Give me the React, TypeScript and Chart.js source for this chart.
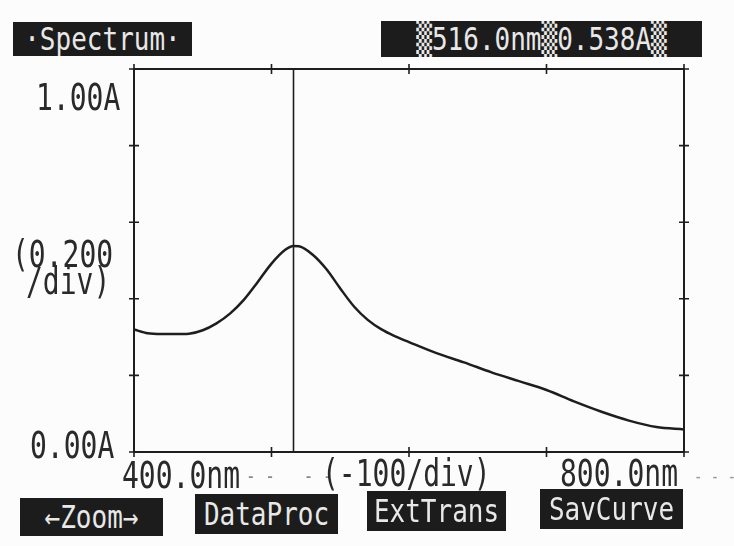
import React, { useEffect, useRef } from "react";
import { Chart, registerables } from "chart.js";

Chart.register(...registerables);

// ---- data ----
const wavelengths = [400, 410, 420, 430, 440, 450, 460, 470, 480, 490, 500, 510, 516, 520, 530, 540, 550, 560, 570, 580, 590, 600, 620, 640, 660, 680, 700, 720, 740, 760, 780, 800];
const absorbance = [0.320, 0.310, 0.308, 0.308, 0.309, 0.318, 0.336, 0.362, 0.398, 0.444, 0.492, 0.528, 0.538, 0.537, 0.515, 0.477, 0.427, 0.380, 0.345, 0.320, 0.302, 0.287, 0.258, 0.234, 0.208, 0.185, 0.162, 0.132, 0.105, 0.082, 0.065, 0.059];
const xTicks = [400, 500, 600, 700, 800];
const yTicks = [0, 0.2, 0.4, 0.6, 0.8, 1.0];
const cursorNm = 516.0;
const cursorAbs = 0.538;
const xMin = 400;
const xMax = 800;
const yMin = 0;
const yMax = 1.0;

const INK = "#1e1e1e";
const FONT = "'DejaVu Sans Mono', 'Liberation Mono', monospace";

const framePlugin = {
  id: "spectroFrame",
  afterDatasetsDraw(chart: any) {
    const { ctx, chartArea, scales } = chart;
    const { left, right, top, bottom } = chartArea;
    ctx.save();
    ctx.strokeStyle = INK;
    ctx.lineWidth = 2;
    ctx.strokeRect(left, top, right - left, bottom - top);
    ctx.lineWidth = 1.6;
    const t = 5;
    xTicks.forEach((v) => {
      const px = scales.x.getPixelForValue(v);
      ctx.beginPath();
      ctx.moveTo(px, top - t);
      ctx.lineTo(px, top + t);
      ctx.moveTo(px, bottom - t);
      ctx.lineTo(px, bottom + t);
      ctx.stroke();
    });
    yTicks.forEach((v) => {
      const py = scales.y.getPixelForValue(v);
      ctx.beginPath();
      ctx.moveTo(left - t, py);
      ctx.lineTo(left + t, py);
      ctx.moveTo(right - t, py);
      ctx.lineTo(right + t, py);
      ctx.stroke();
    });
    const cx = scales.x.getPixelForValue(cursorNm);
    ctx.lineWidth = 1.6;
    ctx.beginPath();
    ctx.moveTo(cx, top);
    ctx.lineTo(cx, bottom);
    ctx.stroke();
    ctx.restore();
  },
};

function Txt(props: { x: number; y: number; text: string; size?: number; sy?: number; color?: string }) {
  const size = props.size ?? 28;
  return (
    <div
      style={{
        position: "absolute",
        left: props.x,
        top: props.y,
        fontFamily: FONT,
        fontSize: size,
        lineHeight: 1,
        color: props.color ?? "#2a2a2a",
        whiteSpace: "pre",
        transform: `scaleY(${props.sy ?? 1.3})`,
        transformOrigin: "top left",
      }}
    >
      {props.text}
    </div>
  );
}

function Box(props: { x: number; y: number; w: number; h: number; text: string; size?: number }) {
  return (
    <div
      style={{
        position: "absolute",
        left: props.x,
        top: props.y,
        width: props.w,
        height: props.h,
        background: "#1c1c1c",
        color: "#e8e8e8",
        fontFamily: FONT,
        fontSize: props.size ?? 26,
        display: "flex",
        alignItems: "center",
        justifyContent: "center",
        whiteSpace: "pre",
        overflow: "hidden",
      }}
    >
      <span style={{ display: "inline-block", transform: "scaleY(1.25)" }}>{props.text}</span>
    </div>
  );
}

export default function App() {
  const ref = useRef<HTMLCanvasElement | null>(null);
  useEffect(() => {
    if (!ref.current) return;
    const chart = new Chart(ref.current, {
      type: "line",
      data: {
        datasets: [
          {
            data: wavelengths.map((w, i) => ({ x: w, y: absorbance[i] })),
            borderColor: INK,
            borderWidth: 2.5,
            pointRadius: 0,
            cubicInterpolationMode: "monotone",
            fill: false,
          },
        ],
      },
      options: {
        responsive: false,
        animation: false,
        layout: { padding: { left: 134, right: 734 - 684, top: 69, bottom: 546 - 452 } },
        scales: {
          x: { type: "linear", min: xMin, max: xMax, display: false },
          y: { type: "linear", min: yMin, max: yMax, display: false },
        },
        plugins: { legend: { display: false }, tooltip: { enabled: false } },
      },
      plugins: [framePlugin],
    } as any);
    return () => chart.destroy();
  }, []);

  return (
    <div style={{ position: "absolute", left: 0, top: 0, width: 734, height: 546, background: "#fcfcfc", overflow: "hidden" }}>
      <canvas ref={ref} width={734} height={546} style={{ position: "absolute", left: 0, top: 0, width: 734, height: 546 }} />
      <Box x={13} y={22} w={179} h={34} text="·Spectrum·" />
      <Box x={381} y={21} w={321} h={36} text={`▒${cursorNm.toFixed(1)}nm▒${cursorAbs.toFixed(3)}A▒`} />
      <Txt x={36} y={80} text="1.00A" />
      <Txt x={12} y={237} text="(0.200" />
      <Txt x={26} y={264} text="/div)" />
      <Txt x={30} y={428} text="0.00A" />
      <Txt x={122} y={458} text="400.0nm" />
      <Txt x={246} y={466} text="- -   - -" size={16} color="#888" />
      <Txt x={322} y={456} text="(-100/div)" />
      <Txt x={560} y={456} text="800.0nm" />
      <Txt x={694} y={466} text="- - -" size={14} color="#999" />
      <Box x={20} y={498} w={143} h={38} text="←Zoom→" />
      <Box x={195} y={494} w={143} h={40} text="DataProc" />
      <Box x={367} y={491} w={139} h={40} text="ExtTrans" />
      <Box x={540} y={489} w={143} h={40} text="SavCurve" />
    </div>
  );
}
